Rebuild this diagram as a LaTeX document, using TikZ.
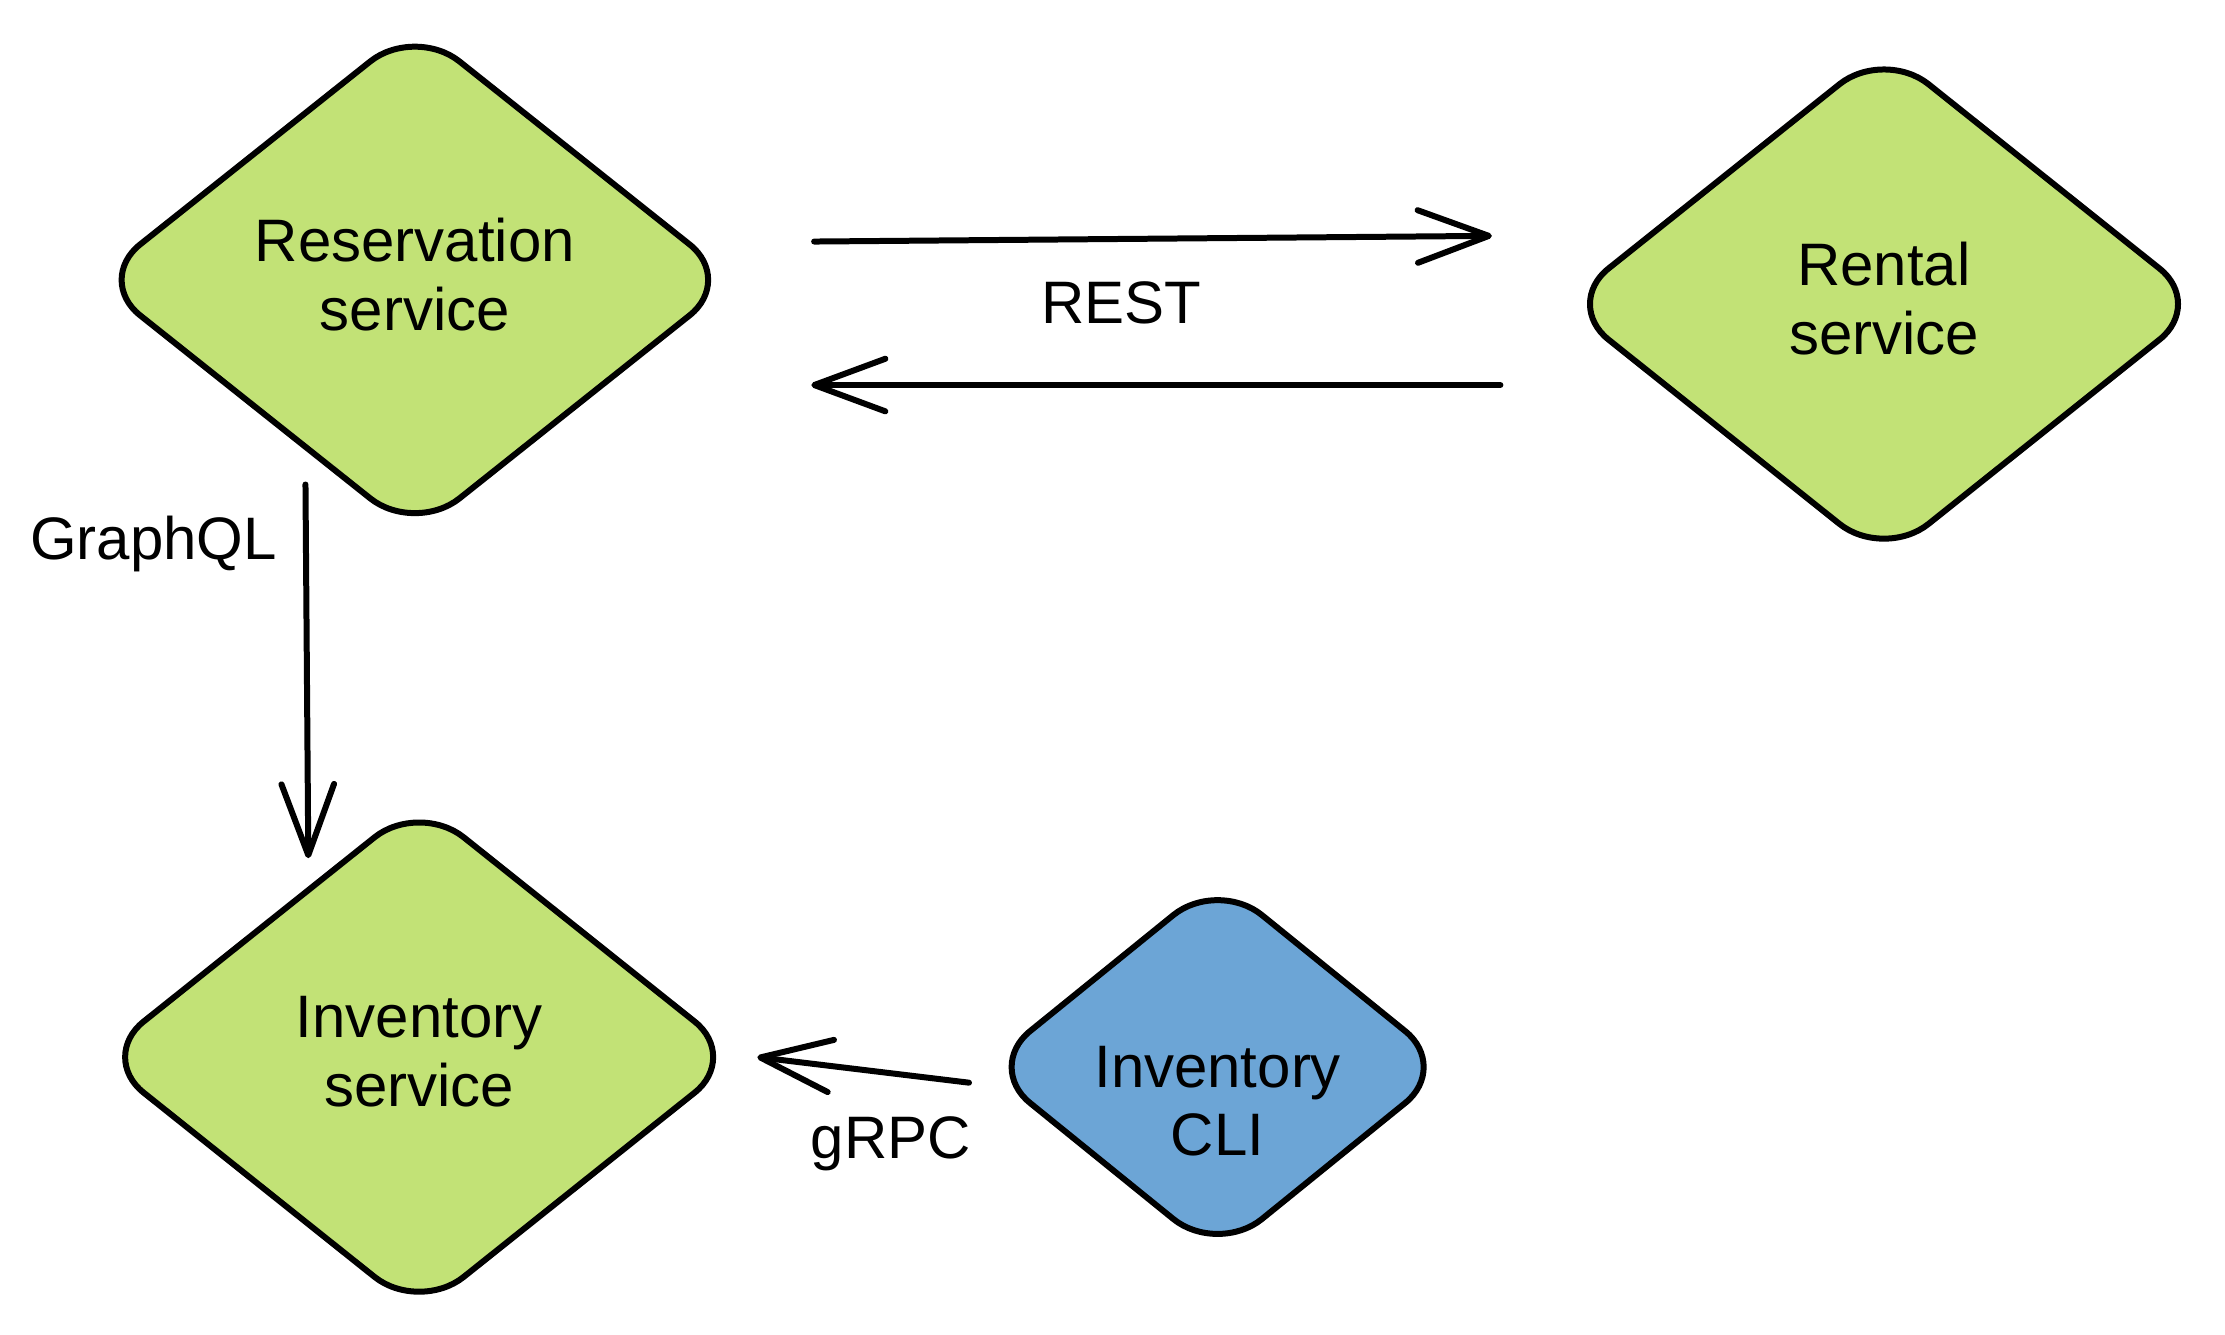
\documentclass[tikz,border=0pt]{standalone}
\usepackage{fontspec}
\setmainfont{Liberation Sans}
\usetikzlibrary{shapes.geometric,arrows.meta}
\definecolor{svcgreen}{RGB}{194,226,118}
\definecolor{cliblue}{RGB}{108,165,214}
\tikzset{
  dia/.style={diamond, draw=black, line width=1.2pt, rounded corners=0.4cm, inner sep=0pt,
    align=center, text depth=0.08cm, font=\fontsize{12}{13.7}\selectfont},
  lbl/.style={font=\fontsize{12}{13.7}\selectfont, inner sep=0pt},
  conn/.style={line width=1.2pt, line cap=round, -{Straight Barb[length=5mm,width=3.7mm,round]}}
}
\begin{document}
\begin{tikzpicture}[x=0.01cm,y=-0.01cm]
\useasboundingbox (0,0) rectangle (1566,939);
\node[dia, fill=svcgreen, minimum width=4.51cm, minimum height=3.59cm] (res) at (292,197) {Reservation\\service};
\node[dia, fill=svcgreen, minimum width=4.52cm, minimum height=3.61cm] (ren) at (1326,214) {Rental\\service};
\node[dia, fill=svcgreen, minimum width=4.52cm, minimum height=3.61cm] (inv) at (295,744) {Inventory\\service};
\node[dia, fill=cliblue, minimum width=3.28cm, minimum height=2.66cm] (cli) at (857,751) {};
\node[lbl, align=center] (clitext) at (857,775) {Inventory\\CLI};
% connector end points
\coordinate (r1s) at (573,170);
\coordinate (r1e) at (1050,166);
\coordinate (r2s) at (1056,271);
\coordinate (r2e) at (571,271);
\coordinate (gqs) at (215,341);
\coordinate (gqe) at (217,604);
\coordinate (grs) at (682,762);
\coordinate (gre) at (533,744);
\draw[conn] (r1s) -- (r1e);
\draw[conn] (r2s) -- (r2e);
\draw[conn] (gqs) -- (gqe);
\draw[conn] (grs) -- (gre);
\node[lbl] (rest) at (789,213) {REST};
\node[lbl] (gql) at (108,383) {GraphQL};
\node[lbl] (grpc) at (627,805) {gRPC};
\end{tikzpicture}
\end{document}
